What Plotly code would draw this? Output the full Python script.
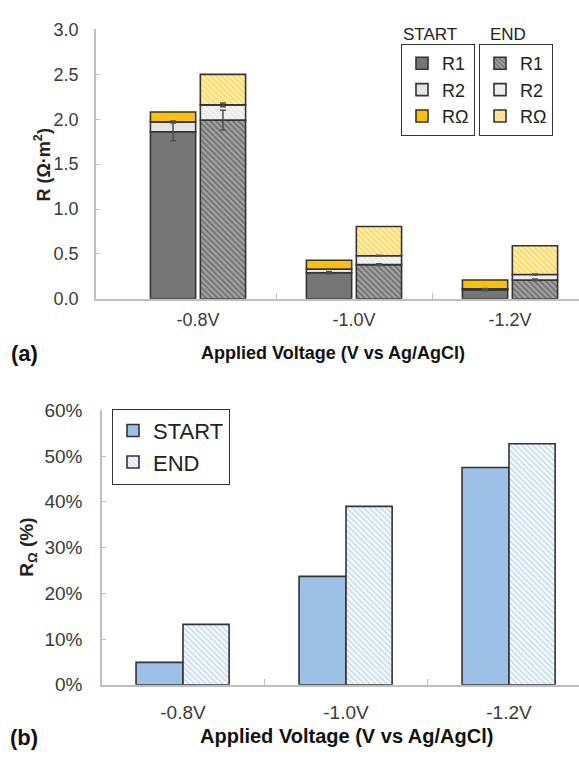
import plotly.graph_objects as go

# ---------------- data ----------------
voltages = ["-0.8V", "-1.0V", "-1.2V"]
start_R1 = [1.86, 0.29, 0.10]
start_R2 = [0.11, 0.04, 0.01]
start_RO = [0.11, 0.10, 0.10]
end_R1 = [1.99, 0.38, 0.21]
end_R2 = [0.17, 0.10, 0.06]
end_RO = [0.34, 0.325, 0.32]
start_R1_err = [0.10, 0.01, 0.01]
end_R1_err = [0.11, 0.01, 0.01]
start_R2_err = [0.01, 0.005, 0.005]
end_R2_err = [0.02, 0.005, 0.005]
start_pct = [4.9, 23.7, 47.5]
end_pct = [13.2, 39.0, 52.7]

W, H = 579, 759
FONT = "Liberation Sans, Arial, sans-serif"
idx = list(range(len(voltages)))


def add(a, b):
    return [x + y for x, y in zip(a, b)]


def px(v):
    return v / W


def py(v):
    return 1 - v / H


fig = go.Figure()
OUT = dict(color="#333333", width=1.6)
ERR = dict(color="#505050", thickness=1.5, width=3)
S_OFF, E_OFF, BW = -0.305, 0.015, 0.29


def stacked(name, y, base, legend, color, offset, pattern=None):
    marker = dict(color=color, line=OUT)
    if pattern:
        marker["pattern"] = pattern
    fig.add_trace(go.Bar(
        x=idx, y=y, base=base, name=name, legend=legend,
        marker=marker, width=BW, offset=offset,
        xaxis="x", yaxis="y"))


def errs(top, err, offset):
    # transparent bar carrying the error bar, drawn above all stacks
    fig.add_trace(go.Bar(
        x=idx, y=top, base=[0] * len(top), showlegend=False, hoverinfo="skip",
        marker=dict(color="rgba(0,0,0,0)", line=dict(width=0)),
        width=BW, offset=offset, xaxis="x", yaxis="y",
        error_y=dict(type="data", array=err, visible=True, **ERR)))


# START stack
stacked("R1", start_R1, [0] * 3, "legend", "#767676", S_OFF)
stacked("R2", start_R2, start_R1, "legend", "#e4e4e4", S_OFF)
stacked("RΩ", start_RO, add(start_R1, start_R2), "legend", "#FFC000", S_OFF)
# END stack
stacked("R1", end_R1, [0] * 3, "legend2", "#a8a8a8", E_OFF,
        pattern=dict(shape="\\", bgcolor="#a8a8a8", fgcolor="#3a3a3a", size=4, solidity=0.5))
stacked("R2", end_R2, end_R1, "legend2", "#f4f4f4", E_OFF,
        pattern=dict(shape="\\", bgcolor="#f4f4f4", fgcolor="#d8d8d8", size=4, solidity=0.4))
stacked("RΩ", end_RO, add(end_R1, end_R2), "legend2", "#FFF0C0", E_OFF,
        pattern=dict(shape="\\", bgcolor="#FFF0C0", fgcolor="#FFC000", size=4, solidity=0.5))

errs(start_R1, start_R1_err, S_OFF)
errs(add(start_R1, start_R2), start_R2_err, S_OFF)
errs(end_R1, end_R1_err, E_OFF)
errs(add(end_R1, end_R2), end_R2_err, E_OFF)

# bottom chart
fig.add_trace(go.Bar(x=idx, y=start_pct, name="START", legend="legend3",
                     marker=dict(color="#9DC0E6", line=OUT), width=0.288, offset=-0.288,
                     xaxis="x2", yaxis="y2"))
fig.add_trace(go.Bar(x=idx, y=end_pct, name="END", legend="legend3",
                     marker=dict(color="#ffffff", line=OUT,
                                 pattern=dict(shape="\\", bgcolor="#ffffff", fgcolor="#9DC0E6",
                                              size=4, solidity=0.55)),
                     width=0.283, offset=0.0, xaxis="x2", yaxis="y2"))

axcol = "#bfbfbf"
tf_top = dict(family=FONT, size=18, color="#3a3a3a")
tf_bot = dict(family=FONT, size=19, color="#3a3a3a")


def xax(tf, standoff):
    return dict(tickvals=idx, ticktext=voltages, ticks="", showline=True, linecolor=axcol,
                linewidth=1.5, showgrid=False, zeroline=False, tickfont=tf,
                ticklabelstandoff=standoff,
                minor=dict(tickvals=[0.5, 1.5], ticks="inside", ticklen=6, tickcolor=axcol,
                           tickwidth=1, showgrid=False))


def yax(tf, standoff):
    return dict(showline=True, linecolor=axcol, linewidth=1.5, showgrid=False, zeroline=False,
                ticks="inside", ticklen=4, tickcolor=axcol, tickfont=tf,
                ticklabelstandoff=standoff)


legfont = dict(family=FONT, size=18, color="#222")
fig.update_layout(
    width=W, height=H,
    margin=dict(l=0, r=0, t=0, b=0),
    paper_bgcolor="white", plot_bgcolor="white",
    barmode="overlay",
    font=dict(family=FONT),
    xaxis=dict(domain=[px(96), 1.0], range=[(96 - 198) / 156, (579 - 198) / 156],
               anchor="y", **xax(tf_top, 4)),
    yaxis=dict(domain=[py(297), py(20)], range=[0, 3.0], dtick=0.5, tickformat=".1f",
               anchor="x", **yax(tf_top, 12)),
    xaxis2=dict(domain=[px(102), 1.0], range=[(102 - 183) / 163, (579 - 183) / 163],
                anchor="y2", **xax(tf_bot, 10)),
    yaxis2=dict(domain=[py(694), py(411.7)], range=[0, 60], dtick=10, ticksuffix="%",
                anchor="x2", **yax(tf_bot, 14)),
    legend=dict(x=px(401), y=py(35), xanchor="left", yanchor="top", bordercolor="#333",
                borderwidth=1, font=legfont, bgcolor="white", tracegroupgap=0,
                itemwidth=30),
    legend2=dict(x=px(479), y=py(35), xanchor="left", yanchor="top", bordercolor="#333",
                 borderwidth=1, font=legfont, bgcolor="white", tracegroupgap=0,
                 itemwidth=30),
    legend3=dict(x=px(112), y=py(410), xanchor="left", yanchor="top", bordercolor="#333",
                 borderwidth=1, font=dict(family=FONT, size=22, color="#222"),
                 bgcolor="white", itemwidth=30),
    showlegend=True,
)

annots = [
    dict(text="START", x=px(430), y=py(25), font=dict(family=FONT, size=17, color="#222")),
    dict(text="END", x=px(508), y=py(25), font=dict(family=FONT, size=17, color="#222")),
    dict(text="<b>R (Ω·m<sup>2</sup>)</b>", x=px(43), y=py(160), textangle=-90,
         font=dict(family=FONT, size=18, color="#222")),
    dict(text="<b>R<sub>Ω</sub> (%)</b>", x=px(28), y=py(553), textangle=-90,
         font=dict(family=FONT, size=19, color="#222")),
    dict(text="<b>Applied Voltage (V vs Ag/AgCl)</b>", x=px(333), y=py(353),
         font=dict(family=FONT, size=18, color="#111")),
    dict(text="<b>Applied Voltage (V vs Ag/AgCl)</b>", x=px(346), y=py(747),
         font=dict(family=FONT, size=20, color="#111")),
    dict(text="<b>(a)</b>", x=px(24), y=py(353), font=dict(family=FONT, size=22, color="#111")),
    dict(text="<b>(b)</b>", x=px(24), y=py(748), font=dict(family=FONT, size=22, color="#111")),
]
for a in annots:
    fig.add_annotation(xref="paper", yref="paper", showarrow=False,
                       xanchor="center", yanchor="middle", **a)

fig.write_html("out.html")
